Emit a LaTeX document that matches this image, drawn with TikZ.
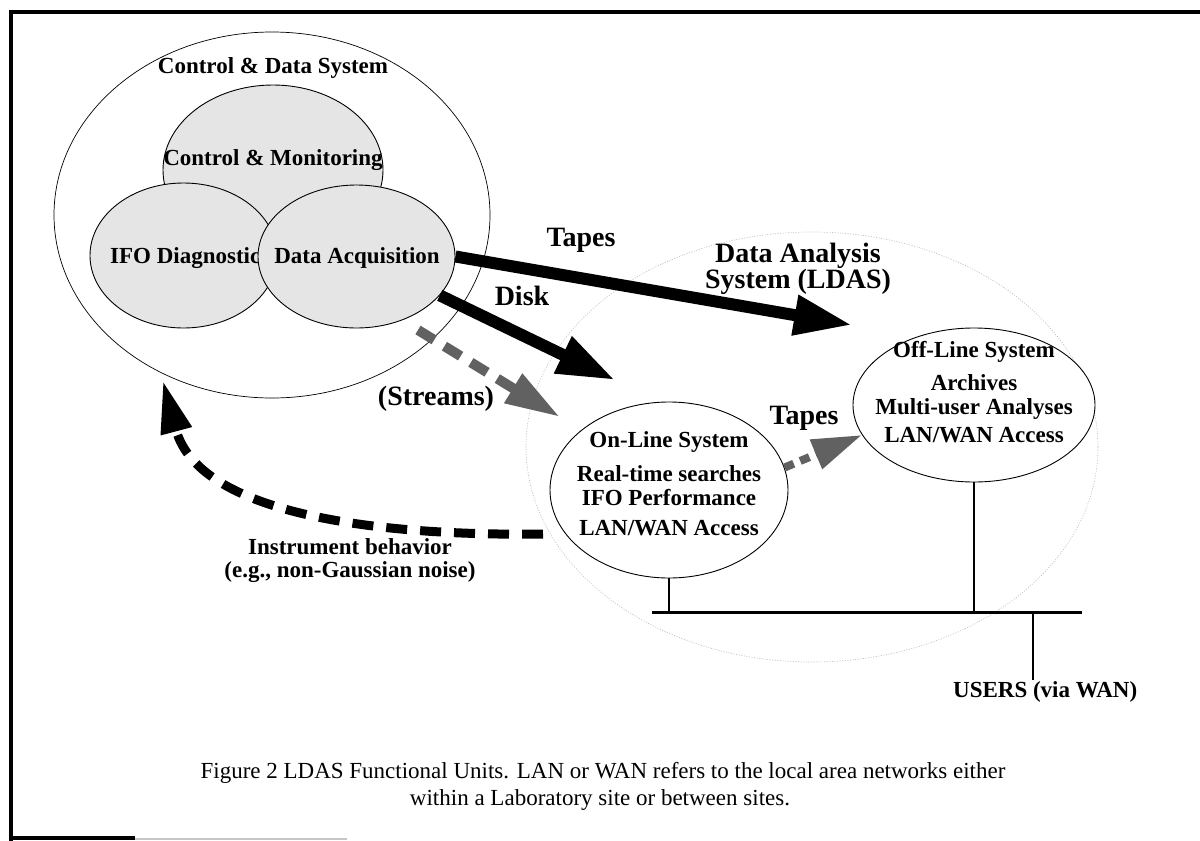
\documentclass[tikz,border=0pt]{standalone}
\usepackage{fontspec}
\setmainfont{Liberation Serif}
\usetikzlibrary{shapes.geometric,arrows.meta}
\begin{document}
\begin{tikzpicture}[x=1pt,y=-1pt,
  ell/.style={ellipse,draw=black,line width=0.9pt,inner sep=0pt},
  unit/.style={ell,fill=gray!20},
  txt/.style={font=\fontsize{23}{23}\selectfont\bfseries,inner sep=0pt},
  bigtxt/.style={font=\fontsize{28}{24}\selectfont\bfseries,inner sep=0pt},
  captxt/.style={font=\fontsize{23}{23}\selectfont,inner sep=0pt},
  fat/.style={line width=12pt,-{Triangle[length=58pt,width=38pt]}},
  graydash/.style={draw=black!62,line width=10pt,dash pattern=on 19pt off 12pt,-{Triangle[length=55pt,width=32pt]}},
  blackdash/.style={line width=9pt,dash pattern=on 21pt off 13pt,-{Triangle[length=52pt,width=30pt]}},
  wire/.style={line width=2.5pt}
]
\fill[white] (0,0) rectangle (1200,841);
\useasboundingbox (0,0) rectangle (1200,841);

% frame
\draw[line width=4.5pt] (11,841) -- (11,12) -- (1200,12);
\draw[line width=4pt] (9,838) -- (135,838);
\draw[gray!45,line width=2pt] (135,839) -- (347,839);

% Control & Data System
\node[ell,line width=0.7pt,minimum width=436pt,minimum height=366pt] (cds) at (272,215) {};
\node[txt] (cdst) at (273,68) {Control \& Data System};
\node[unit,minimum width=220pt,minimum height=170pt] (cm) at (273,170) {};
\node[txt] (cmt) at (273,160) {Control \& Monitoring};
\node[unit,minimum width=187pt,minimum height=145pt] (ifo) at (183.5,255.5) {};
\node[txt,anchor=west] (ifot) at (110,258) {IFO Diagnostic};
\node[unit,minimum width=197pt,minimum height=143pt] (da) at (356.5,256.5) {};
\node[txt] (dat) at (357,258) {Data Acquisition};

% LDAS
\node[ellipse,draw=gray!55,line width=0.6pt,dash pattern=on 1pt off 1.6pt,inner sep=0pt,minimum width=572pt,minimum height=430pt] (ldas) at (812,447) {};
\node[bigtxt,align=center] (ldast) at (798,269) {Data Analysis\\System (LDAS)};

% On-line / Off-line
\node[ell,fill=white,minimum width=238pt,minimum height=176pt] (on) at (669,490) {};
\node[txt] (on1) at (669,442) {On-Line System};
\node[txt] (on2) at (669,474) {Real-time searches};
\node[txt] (on3) at (669,498) {IFO Performance};
\node[txt] (on4) at (669,528) {LAN/WAN Access};

\node[ell,fill=white,minimum width=242pt,minimum height=154pt] (off) at (974,405) {};
\node[txt] (off1) at (974,352) {Off-Line System};
\node[txt] (off2) at (974,383) {Archives};
\node[txt] (off3) at (974,409) {Multi-user Analyses};
\node[txt] (off4) at (974,435) {LAN/WAN Access};

% network bus
\coordinate (busL) at (652,612);
\coordinate (busR) at (1082,612);
\coordinate (usrTop) at (1033,612);
\coordinate (usrEnd) at (1033,680);
\draw[line width=3pt] (busL) -- (busR);
\draw[wire] (on.south) -- (on.south |- busL);
\draw[wire] (off.south) -- (off.south |- busL);
\draw[wire] (usrTop) -- (usrEnd);
\node[txt,anchor=west] (users) at (953,692) {USERS (via WAN)};

% arrows
\coordinate (tapesEnd) at (852,325);
\coordinate (diskEnd) at (615,380);
\coordinate (strStart) at (418,330);
\coordinate (strEnd) at (560,417);
\draw[fat] (da.east) -- (tapesEnd);
\draw[fat] (da.-25) -- (diskEnd);
\draw[graydash] (strStart) -- (strEnd);
\draw[graydash,line width=8pt,dash pattern=on 10pt off 7pt,-{Triangle[length=50pt,width=30pt]}] (on.11) -- (off.195);

\coordinate (fbStart) at (543,534);
\coordinate (fbEnd) at (163,381);
\draw[blackdash] (fbStart) .. controls (400,536) and (200,520) .. (fbEnd);

\node[bigtxt] (tapes1) at (581,240) {Tapes};
\node[bigtxt] (disk) at (522,296) {Disk};
\node[bigtxt] (streams) at (436,399) {(Streams)};
\node[bigtxt] (tapes2) at (804,418) {Tapes};

\node[txt] (ib1) at (350,547) {Instrument behavior};
\node[txt] (ib2) at (350,572) {(e.g., non-Gaussian noise)};

% caption
\node[captxt] (cap1) at (603,773) {Figure 2 LDAS Functional Units. LAN or WAN refers to the local area networks either};
\node[captxt] (cap2) at (600,800) {within a Laboratory site or between sites.};
\end{tikzpicture}
\end{document}
